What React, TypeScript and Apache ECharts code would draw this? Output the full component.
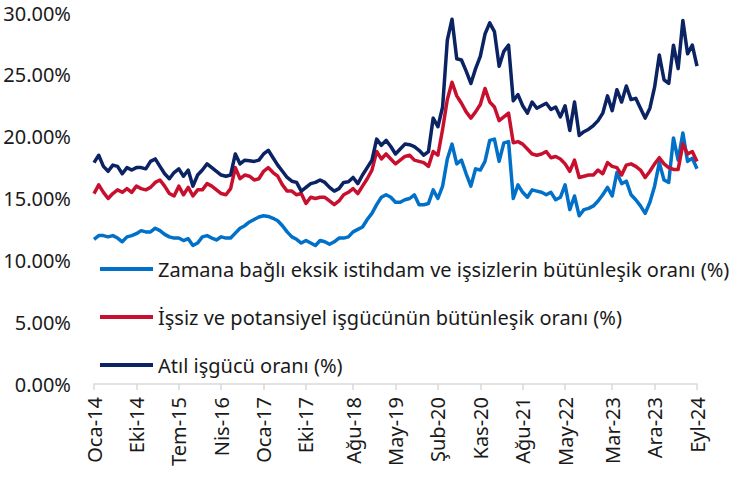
import React, { useEffect, useRef } from "react";
import * as echarts from "echarts";

const monthNames = ["Oca", "Şub", "Mar", "Nis", "May", "Haz", "Tem", "Ağu", "Eyl", "Eki", "Kas", "Ara"];
const startYear = 2014;
const monthCount = 129;
const categories: string[] = [];
for (let i = 0; i < monthCount; i++) {
  const y = startYear + Math.floor(i / 12);
  categories.push(`${monthNames[i % 12]}-${String(y).slice(2)}`);
}
const labelIndices = [0, 9, 18, 27, 36, 45, 55, 64, 73, 82, 91, 100, 110, 119, 128];

const seriesNames = [
  "Zamana bağlı eksik istihdam ve işsizlerin bütünleşik oranı (%)",
  "İşsiz ve potansiyel işgücünün bütünleşik oranı (%)",
  "Atıl işgücü oranı (%)",
];

const timeRelated = [
  11.7, 12.0, 12.0, 11.9, 12.0, 11.8, 11.5, 11.9, 12.0, 12.15,
  12.4, 12.3, 12.3, 12.6, 12.4, 12.1, 11.9, 11.8, 11.8, 11.6,
  11.75, 11.2, 11.4, 11.9, 12.0, 11.8, 11.65, 11.9, 11.8, 11.8,
  12.2, 12.6, 12.8, 13.1, 13.3, 13.5, 13.6, 13.55, 13.4, 13.2,
  12.8, 12.3, 11.9, 11.7, 11.4, 11.6, 11.4, 11.2, 11.6, 11.5,
  11.3, 11.5, 11.8, 11.8, 11.9, 12.3, 12.5, 12.7, 13.3, 13.8,
  14.5, 15.1, 15.3, 15.1, 14.7, 14.7, 14.9, 15.0, 15.3, 14.5,
  14.5, 14.6, 15.7, 15.0, 16.0, 18.2, 19.4, 17.8, 18.1, 17.0,
  16.0, 17.4, 17.3, 18.0, 19.7, 19.8, 18.0, 19.5, 19.6, 15.0,
  16.1, 15.5, 15.1, 15.7, 15.6, 15.5, 15.3, 15.5, 14.9, 15.1,
  16.1, 14.1, 15.2, 13.6, 14.1, 14.2, 14.4, 14.8, 15.3, 15.9,
  15.2, 17.1, 16.2, 16.4, 15.3, 14.9, 14.4, 13.8, 14.7, 16.0,
  17.9, 16.5, 16.3, 19.9, 18.1, 20.3, 18.0, 18.25, 17.4,
];

const unemployedPotential = [
  15.4, 16.1, 15.5, 15.0, 15.4, 15.7, 15.5, 15.8, 15.5, 16.0,
  15.8, 15.7, 15.9, 16.3, 16.5, 16.0, 15.4, 15.2, 16.0, 15.3,
  15.9, 15.2, 15.7, 15.7, 16.2, 16.0, 15.7, 15.4, 15.3, 15.8,
  17.5, 16.6, 16.9, 16.8, 16.5, 16.6, 17.2, 17.5, 17.1, 16.8,
  16.1, 15.6, 15.6, 15.3, 15.4, 14.6, 15.1, 15.0, 15.1, 15.1,
  14.8, 14.5, 14.8, 15.3, 15.5, 15.8, 15.4, 16.0, 16.6, 17.3,
  18.8, 18.2, 18.6, 18.2, 17.8, 18.1, 18.4, 18.5, 18.1, 18.0,
  17.9, 17.6, 18.8, 18.5, 20.6, 23.0, 24.4, 23.3, 22.7, 22.0,
  21.5, 22.0, 22.6, 23.9, 22.8, 22.4, 21.3, 21.6, 21.9, 19.5,
  19.6, 19.4, 19.0, 18.6, 18.5, 18.6, 18.8, 18.3, 18.4, 18.2,
  17.8, 17.2, 18.1, 16.7, 16.8, 16.9, 16.9, 17.3, 17.0, 17.9,
  17.6, 17.5, 16.9, 17.7, 17.8, 17.6, 17.3, 16.7, 17.2, 17.8,
  18.3, 17.8, 17.5, 17.35, 17.35, 19.4, 18.6, 18.8, 18.0,
];

const underutilization = [
  17.9, 18.5, 17.6, 17.2, 17.7, 17.6, 17.0, 17.5, 17.3, 17.5,
  17.5, 17.4, 18.0, 18.2, 17.6, 17.0, 16.6, 17.1, 17.4, 16.8,
  17.3, 16.0, 16.9, 17.3, 17.8, 17.5, 17.2, 16.9, 16.8, 16.9,
  18.6, 17.8, 18.1, 18.05, 18.0, 18.1, 18.6, 18.9, 18.3, 17.7,
  17.2, 16.7, 16.4, 16.3, 15.6, 15.9, 16.2, 16.3, 16.5, 16.3,
  15.9, 15.6, 15.8, 16.3, 16.35, 16.7, 16.2, 16.9, 17.5, 18.1,
  19.8, 19.3, 19.7, 19.2, 18.6, 19.0, 19.4, 19.35, 19.2, 18.9,
  18.5, 18.8, 21.5, 20.8, 22.4, 27.8, 29.5, 26.3, 26.2, 25.3,
  24.3, 25.5, 26.5, 28.3, 29.2, 28.5, 25.7, 26.9, 27.4, 22.9,
  23.4, 22.5, 21.9, 22.8, 22.3, 22.5, 22.7, 22.2, 22.4, 21.6,
  22.5, 20.5, 22.8, 20.1, 20.4, 20.6, 20.9, 21.3, 21.9, 23.3,
  22.1, 23.8, 22.8, 24.1, 23.0, 23.1, 22.3, 21.5, 22.3, 24.0,
  26.6, 24.6, 24.3, 27.4, 25.5, 29.4, 26.7, 27.4, 25.7,
];

const yTicks = { min: 0, max: 30, interval: 5 };
const colors = ["#0070C8", "#C8102E", "#0B2263"];
const FONT = "Noto Sans";

export default function App() {
  const ref = useRef<HTMLDivElement>(null);
  useEffect(() => {
    if (!ref.current) return;
    const chart = echarts.init(ref.current, undefined, { renderer: "svg" });
    const showIdx = (idx: number) => labelIndices.includes(idx);
    const dataSets = [timeRelated, unemployedPotential, underutilization];
    chart.setOption({
      animation: false,
      backgroundColor: "#ffffff",
      textStyle: { fontFamily: FONT },
      grid: { left: 94, right: 33, top: 13, bottom: 93, containLabel: false },
      legend: {
        orient: "vertical",
        left: 100,
        top: 259,
        padding: 0,
        itemWidth: 53,
        itemHeight: 16,
        itemGap: 28,
        icon: "path://M0,7 L53,7 L53,11 L0,11 Z",
        textStyle: { fontSize: 20, color: "#1a1a1a", fontFamily: FONT },
        data: seriesNames,
      },
      xAxis: {
        type: "category",
        data: categories,
        boundaryGap: false,
        axisLine: { show: true, lineStyle: { color: "#d9d9d9", width: 1.5 } },
        axisTick: { show: true, interval: (i: number) => showIdx(i), length: 6, lineStyle: { color: "#d9d9d9", width: 1.5 } },
        axisLabel: {
          interval: (i: number) => showIdx(i),
          rotate: 90,
          fontSize: 20,
          color: "#1a1a1a",
          fontFamily: FONT,
          margin: 13,
        },
        splitLine: { show: false },
      },
      yAxis: {
        type: "value",
        min: yTicks.min,
        max: yTicks.max,
        interval: yTicks.interval,
        axisLine: { show: false },
        axisTick: { show: false },
        splitLine: { show: false },
        axisLabel: {
          formatter: (v: number) => v.toFixed(2) + "%",
          fontSize: 20,
          color: "#1a1a1a",
          fontFamily: FONT,
          margin: 23,
        },
      },
      series: seriesNames.map((name, k) => ({
        name,
        type: "line",
        data: dataSets[k],
        symbol: "none",
        showSymbol: false,
        color: colors[k],
        lineStyle: { color: colors[k], width: 3.5, join: "round" },
        itemStyle: { color: colors[k] },
      })),
    });
    return () => chart.dispose();
  }, []);
  return (
    <div
      ref={ref}
      style={{ position: "absolute", left: 0, top: 0, width: 730, height: 477 }}
    />
  );
}
